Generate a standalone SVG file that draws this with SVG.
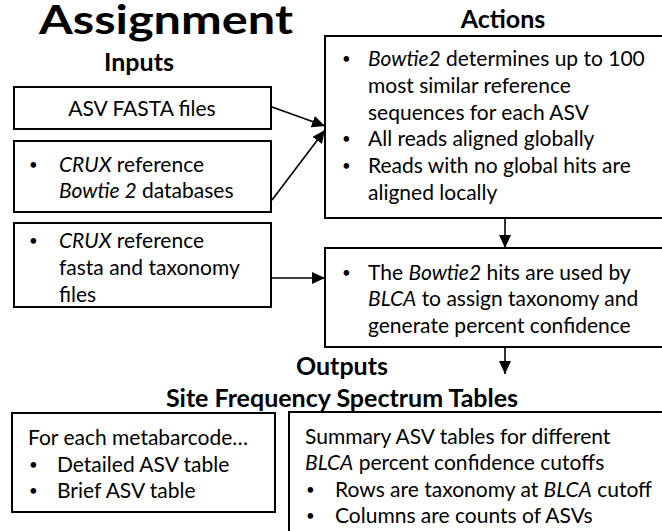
<svg xmlns="http://www.w3.org/2000/svg" width="662" height="531" viewBox="0 0 662 531">
<style>
.box{fill:#fff;stroke:#000;stroke-width:2}
.t{font-family:Lato,"Open Sans","Liberation Sans",sans-serif;font-size:21px;fill:#000}
.b{font-family:Lato,"Open Sans","Liberation Sans",sans-serif;font-size:15px;fill:#000}
.h{font-family:Lato,"Open Sans","Liberation Sans",sans-serif;font-weight:bold;font-size:25px;fill:#000}
.i{font-style:italic}
.c{stroke:#000;stroke-width:1.6;fill:none}
</style>
<defs>
<marker id="ah" markerUnits="userSpaceOnUse" markerWidth="14" markerHeight="12" refX="13" refY="6" orient="auto">
<path d="M0,0 L13,6 L0,12 Z" fill="#000"/>
</marker>
</defs>
<rect width="662" height="531" fill="#fff"/>
<g id="titles">
<text x="39" y="34" class="h" style="font-size:41px" textLength="254" lengthAdjust="spacingAndGlyphs">Assignment</text>
<text x="139" y="71" text-anchor="middle" class="h">Inputs</text>
<text x="503" y="28" text-anchor="middle" class="h">Actions</text>
<text x="342" y="375" text-anchor="middle" class="h">Outputs</text>
<text x="342" y="407" text-anchor="middle" class="h">Site Frequency Spectrum Tables</text>
</g>
<g id="input1">
<rect class="box" x="14" y="87" width="257" height="42"/>
<text x="142" y="116" text-anchor="middle" class="t">ASV FASTA files</text>
</g>
<g id="input2">
<rect class="box" x="14" y="141" width="257" height="71"/>
<text x="29" y="170" class="b">•</text>
<text x="59" y="172" class="t"><tspan class="i">CRUX</tspan> reference</text>
<text x="59" y="198" class="t"><tspan class="i">Bowtie 2</tspan> databases</text>
</g>
<g id="input3">
<rect class="box" x="14" y="223" width="257" height="84"/>
<text x="29" y="246" class="b">•</text>
<text x="59" y="248" class="t"><tspan class="i">CRUX</tspan> reference</text>
<text x="59" y="275" class="t">fasta and taxonomy</text>
<text x="59" y="302" class="t">files</text>
</g>
<g id="action1">
<rect class="box" x="325" y="36" width="345" height="182"/>
<text x="342" y="64" class="b">•</text>
<text x="368" y="66" class="t"><tspan class="i">Bowtie2</tspan> determines up to 100</text>
<text x="368" y="93" class="t">most similar reference</text>
<text x="368" y="120" class="t">sequences for each ASV</text>
<text x="342" y="144" class="b">•</text>
<text x="368" y="146" class="t">All reads aligned globally</text>
<text x="342" y="171" class="b">•</text>
<text x="368" y="173" class="t">Reads with no global hits are</text>
<text x="368" y="200" class="t">aligned locally</text>
</g>
<g id="action2">
<rect class="box" x="325" y="248" width="345" height="99"/>
<text x="342" y="278" class="b">•</text>
<text x="368" y="280" class="t">The <tspan class="i">Bowtie2</tspan> hits are used by</text>
<text x="368" y="306" class="t"><tspan class="i">BLCA</tspan> to assign taxonomy and</text>
<text x="368" y="333" class="t">generate percent confidence</text>
</g>
<g id="output1">
<rect class="box" x="12" y="413" width="263" height="99"/>
<text x="28" y="445" class="t">For each metabarcode…</text>
<text x="29" y="470" class="b">•</text>
<text x="57" y="472" class="t">Detailed ASV table</text>
<text x="29" y="496" class="b">•</text>
<text x="57" y="498" class="t">Brief ASV table</text>
</g>
<g id="output2">
<rect class="box" x="289" y="412" width="380" height="130"/>
<text x="305" y="444" class="t">Summary ASV tables for different</text>
<text x="305" y="470" class="t"><tspan class="i">BLCA</tspan> percent confidence cutoffs</text>
<text x="306" y="495" class="b">•</text>
<text x="335" y="497" class="t">Rows are taxonomy at <tspan class="i">BLCA</tspan> cutoff</text>
<text x="306" y="521" class="b">•</text>
<text x="335" y="523" class="t">Columns are counts of ASVs</text>
</g>
<g id="connectors">
<line class="c" x1="272" y1="107" x2="325" y2="126" marker-end="url(#ah)"/>
<line class="c" x1="272" y1="200" x2="325" y2="130" marker-end="url(#ah)"/>
<line class="c" x1="271" y1="278" x2="325" y2="278" marker-end="url(#ah)"/>
<line class="c" x1="505" y1="218" x2="505" y2="248" marker-end="url(#ah)"/>
<line class="c" x1="505" y1="347" x2="505" y2="374" marker-end="url(#ah)"/>
</g>
</svg>
